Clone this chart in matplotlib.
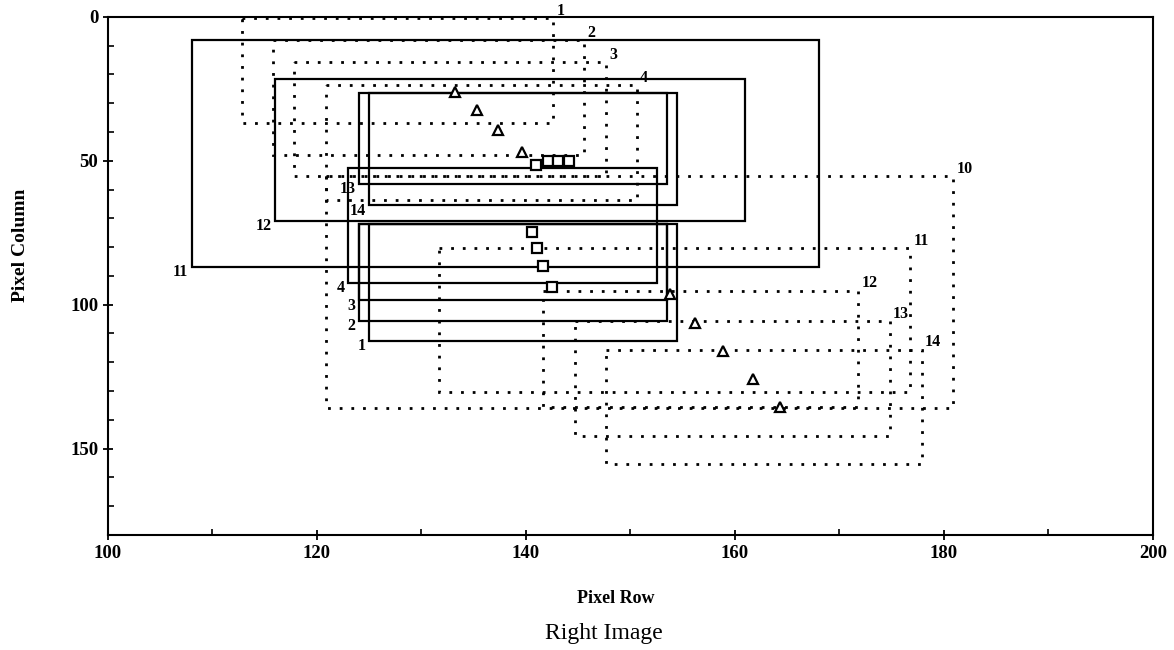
import matplotlib
matplotlib.use("Agg")
import matplotlib.pyplot as plt
from matplotlib.patches import Rectangle

plt.rcParams['font.family'] = ['Liberation Serif', 'DejaVu Serif']

# solid boxes (left image): label, x0, x1, y0, y1
solid_labels = ['1', '2', '3', '4', '11', '12', '13', '14']
solid_x0 = [125, 124, 124, 123, 108, 116, 124, 125]
solid_x1 = [154.5, 153.5, 153.5, 152.5, 168, 161, 153.5, 154.5]
solid_y0 = [72, 72, 72, 52.5, 8, 21.5, 26.5, 26.5]
solid_y1 = [112.5, 105.5, 98.5, 92.5, 87, 71, 58, 65.5]

# dotted boxes (right image)
dotted_labels = ['1', '2', '3', '4', '10', '11', '12', '13', '14']
dotted_x0 = [112.8, 115.8, 117.8, 120.9, 120.9, 131.7, 141.6, 144.7, 147.7]
dotted_x1 = [142.6, 145.6, 147.7, 150.6, 180.9, 176.8, 171.8, 174.8, 177.9]
dotted_y0 = [0.5, 8.0, 15.6, 23.6, 55.2, 80.2, 95.1, 105.6, 115.6]
dotted_y1 = [36.8, 47.9, 55.2, 63.5, 135.8, 130.2, 135.4, 145.5, 155.2]

# square markers
sq_x = [141.0, 142.1, 143.1, 144.1, 140.6, 141.1, 141.6, 142.5]
sq_y = [51.4, 50.0, 50.0, 50.0, 74.7, 80.2, 86.4, 93.8]

# triangle markers
tri_x = [133.2, 135.3, 137.3, 139.6, 153.8, 156.2, 158.9, 161.7, 164.3]
tri_y = [26.0, 32.3, 39.2, 46.9, 96.2, 106.3, 116.0, 125.7, 135.4]

fig = plt.figure(figsize=(11.74, 6.5), dpi=100)
ax = fig.add_axes([0.092, 0.177, 0.890, 0.797])

for lab, x0, x1, y0, y1 in zip(solid_labels, solid_x0, solid_x1, solid_y0, solid_y1):
    ax.add_patch(Rectangle((x0, y0), x1 - x0, y1 - y0, fill=False,
                           edgecolor='black', lw=1.6))
    ax.text(x0 - 0.3, y1 + 1.8, lab, ha='right', va='center',
            fontsize=11.5, fontweight='bold')

for lab, x0, x1, y0, y1 in zip(dotted_labels, dotted_x0, dotted_x1, dotted_y0, dotted_y1):
    ax.add_patch(Rectangle((x0, y0), x1 - x0, y1 - y0, fill=False,
                           edgecolor='black', lw=2.0, linestyle=(0, (1, 3.2))))
    ax.text(x1 + 0.3, y0 - 2.5, lab, ha='left', va='center',
            fontsize=11.5, fontweight='bold')

ax.plot(sq_x, sq_y, 's', ms=7, mfc='white', mec='black', mew=1.6, ls='none')
ax.plot(tri_x, tri_y, '^', ms=7, mfc='white', mec='black', mew=1.6, ls='none')

ax.set_xlim(100, 200)
ax.set_ylim(180, 0)
ax.set_xticks([100, 120, 140, 160, 180, 200])
ax.set_xticks(range(110, 200, 20), minor=True)
ax.set_yticks([0, 50, 100, 150])
ax.set_yticks(range(10, 180, 10), minor=True)
ax.tick_params(which='major', direction='inout', length=7, width=1.3, labelsize=13.5)
ax.tick_params(which='minor', direction='in', length=4, width=1.2)
for lbl in ax.get_xticklabels() + ax.get_yticklabels():
    lbl.set_fontweight('bold')
for s in ax.spines.values():
    s.set_linewidth(1.5)

ax.set_xlabel('Pixel Row', fontsize=13, fontweight='bold')
ax.xaxis.set_label_coords(0.486, -0.106)
ax.set_ylabel('Pixel Column', fontsize=14, fontweight='bold')
ax.yaxis.set_label_coords(-0.076, 0.56)
fig.text(0.514, 0.026, 'Right Image', ha='center', va='center', fontsize=17)

fig.savefig('out.png', dpi=100)
